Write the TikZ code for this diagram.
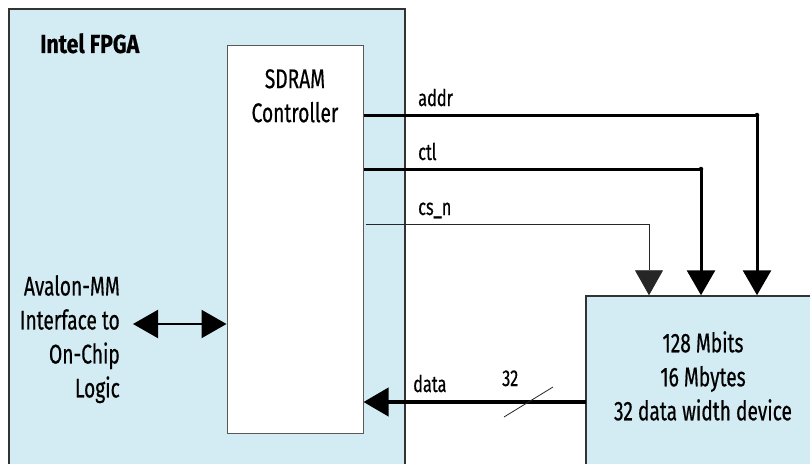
\documentclass[tikz,border=0pt]{standalone}
\usepackage{fontspec}
\setmainfont[FakeStretch=0.71, FakeBold=0.5, BoldFeatures={FakeStretch=0.82}]{Fira Sans}
\usetikzlibrary{arrows.meta,calc}
\definecolor{chipblue}{RGB}{211,235,242}

\begin{document}
\begin{tikzpicture}[x=1pt,y=-1pt,
  blk/.style={draw=black!80, line width=1.2pt, inner sep=0pt},
  txt/.style={font=\fontsize{27}{34}\selectfont, inner sep=0pt},
  lbl/.style={font=\fontsize{23}{24}\selectfont, inner sep=0pt, anchor=base west},
  bus/.style={line width=3pt},
  sig/.style={line width=0.8pt, draw=black!85},
  arrowhd/.style={-{Triangle[length=25pt,width=28pt]}},
  jn/.style={circle, fill, inner sep=0pt, minimum size=4.5pt}
]
  \useasboundingbox (0,0) rectangle (810,463);
  \clip (0,0) rectangle (810,463);

  % boxes
  \node[blk, fill=chipblue, minimum width=396pt, minimum height=481pt] (fpga) at (207,249.5) {};
  \node[blk, draw=black!65, line width=1pt, fill=white, minimum width=136pt, minimum height=388pt] (ctrl) at (295,239) {};
  \node[blk, fill=chipblue, line width=1.5pt, minimum width=244pt, minimum height=194pt] (mem) at (708,393) {};

  % texts
  \node[txt, font=\fontsize{26}{34}\selectfont\bfseries, anchor=north west] (title) at (40,33) {Intel FPGA};
  \node[txt, align=center, anchor=north] (ctrltxt) at (295,69) {SDRAM\\Controller};
  \node[txt, align=right, anchor=north east] (avl) at (120,275) {Avalon-MM\\Interface to\\On-Chip\\Logic};
  \node[txt, align=center, anchor=north] (memtxt) at (703,331) {128 Mbits\\16 Mbytes\\32 data width device};

  % signals to the memory
  \coordinate (addrb) at (757,115);
  \coordinate (ctlb) at (701,169);
  \coordinate (csb) at (649,224);
  \draw[bus, arrowhd] (ctrl.east |- addrb) -| (addrb |- mem.north);
  \draw[bus, arrowhd] (ctrl.east |- ctlb) -| (ctlb |- mem.north);
  \draw[sig, arrowhd] ([xshift=2pt]ctrl.east |- csb) -| (csb |- mem.north);
  \node[jn] at (addrb) {};
  \node[jn] at (ctlb) {};
  \node[lbl] (addrl) at (418,106) {addr};
  \node[lbl] (ctll) at (418,160) {ctl};
  \node[lbl] (csl) at (418,215) {cs\_n};

  % data bus back
  \coordinate (datab) at (586,402);
  \draw[bus, line width=4pt, arrowhd] (datab) -- (ctrl.east |- datab);
  \coordinate (slasha) at (504,417);
  \coordinate (slashb) at (553,387);
  \draw[sig] (slasha) -- (slashb);
  \node[lbl] (datal) at (413,392) {data};
  \node[lbl] (widthl) at (502,386) {32};

  % avalon side
  \coordinate (avlp) at (133,324);
  \draw[line width=2.2pt, {Triangle[length=25pt,width=28pt]}-{Triangle[length=25pt,width=28pt]}] (avlp) -- (ctrl.west |- avlp);
\end{tikzpicture}
\end{document}
